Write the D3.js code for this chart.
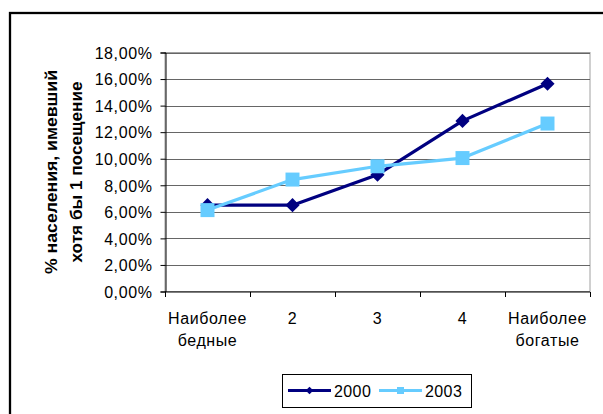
<!DOCTYPE html>
<html>
<head>
<meta charset="utf-8">
<script src="https://cdn.jsdelivr.net/npm/d3@7"></script>
<style>
  html, body { margin: 0; padding: 0; background: #fff; }
  svg { display: block; font-family: Arial, "Liberation Sans", sans-serif; }
</style>
</head>
<body>
<svg id="chart" width="603" height="414"></svg>
<script>
// Share of population with at least one visit, by income quintile
const categories = [["Наиболее", "бедные"], ["2"], ["3"], ["4"], ["Наиболее", "богатые"]];
const series2000 = [0.065, 0.065, 0.088, 0.1285, 0.1565];
const series2003 = [0.0613, 0.0843, 0.0943, 0.1005, 0.1265];
const yTicks = [0, 0.02, 0.04, 0.06, 0.08, 0.10, 0.12, 0.14, 0.16, 0.18];
const seriesNames = ["2000", "2003"];
const seriesColors = ["#000080", "#66ccff"];
const axisTitle = ["% населения, имевший", "хотя бы 1 посещение"];

const svg = d3.select("#chart");

// Outer chart frame (runs off the right and bottom edges)
svg.append("rect")
  .attr("x", 10).attr("y", 13)
  .attr("width", 620).attr("height", 430)
  .attr("fill", "none").attr("stroke", "#000").attr("stroke-width", 2.3);

const plot = { left: 165, right: 590, top: 52.5, bottom: 291.5 };

const x = d3.scaleBand()
  .domain(d3.range(categories.length))
  .range([plot.left, plot.right])
  .padding(0);

const y = d3.scaleLinear()
  .domain([0, 0.18])
  .range([plot.bottom, plot.top]);

const fmt = v => d3.format(".2f")(v * 100).replace(".", ",") + "%";

// Plot area border (light gray)
svg.append("rect")
  .attr("x", plot.left).attr("y", plot.top)
  .attr("width", plot.right - plot.left).attr("height", plot.bottom - plot.top)
  .attr("fill", "#fff").attr("stroke", "#a0a0a0").attr("stroke-width", 1);

// Horizontal gridlines
svg.append("g")
  .selectAll("line")
  .data(yTicks.filter(t => t > 0))
  .join("line")
  .attr("x1", plot.left).attr("x2", plot.right)
  .attr("y1", d => Math.round(y(d)) + 0.5).attr("y2", d => Math.round(y(d)) + 0.5)
  .attr("stroke", "#666").attr("stroke-width", 1.2);

// Y axis
const yAxis = d3.axisLeft(y).tickValues(yTicks).tickFormat(fmt).tickSize(5).tickPadding(8);
const gy = svg.append("g")
  .attr("transform", `translate(${plot.left + 0.5},0)`)
  .call(yAxis);
gy.select(".domain").attr("stroke", "#000");
gy.selectAll(".tick line").attr("stroke", "#000");
gy.selectAll(".tick text")
  .attr("fill", "#000")
  .style("font-size", "16px")
  .style("letter-spacing", "0.6px")
  .attr("dy", "0.36em");

// X axis with ticks at category boundaries
const gx = svg.append("g")
  .attr("transform", `translate(0,${plot.bottom + 0.5})`);
gx.append("line")
  .attr("x1", plot.left).attr("x2", plot.right)
  .attr("stroke", "#000");
const boundaries = d3.range(categories.length + 1).map(i => plot.left + i * x.step());
gx.selectAll("line.tick")
  .data(boundaries)
  .join("line")
  .attr("class", "tick")
  .attr("x1", d => Math.round(d) + 0.5).attr("x2", d => Math.round(d) + 0.5)
  .attr("y1", 0).attr("y2", 5)
  .attr("stroke", "#000");

const xlab = gx.selectAll("text.cat")
  .data(categories)
  .join("text")
  .attr("class", "cat")
  .attr("text-anchor", "middle")
  .attr("fill", "#000")
  .style("font-size", "16px")
  .style("letter-spacing", "0.6px")
  .attr("transform", (d, i) => `translate(${x(i) + x.bandwidth() / 2},0)`);
xlab.selectAll("tspan")
  .data(d => d)
  .join("tspan")
  .attr("x", 0)
  .attr("y", (d, i) => 32 + i * 22)
  .text(d => d);

// Y axis title, two rotated lines
const titleLengths = [204, 181];
const title = svg.append("g")
  .attr("transform", `translate(0,${(plot.top + plot.bottom) / 2}) rotate(-90)`);
title.selectAll("text")
  .data(axisTitle)
  .join("text")
  .attr("x", 0)
  .attr("y", (d, i) => 56.5 + i * 25)
  .attr("text-anchor", "middle")
  .attr("font-weight", "bold")
  .style("font-size", "16px")
  .attr("fill", "#000")
  .attr("textLength", (d, i) => titleLengths[i])
  .attr("lengthAdjust", "spacingAndGlyphs")
  .text(d => d);

// Series lines and markers
const allSeries = [series2000, series2003];
const cx = i => x(i) + x.bandwidth() / 2;
const line = d3.line().x((d, i) => cx(i)).y(d => y(d));

allSeries.forEach((vals, s) => {
  svg.append("path")
    .datum(vals)
    .attr("d", line)
    .attr("fill", "none")
    .attr("stroke", seriesColors[s])
    .attr("stroke-width", 3.2)
    .attr("stroke-linejoin", "round");
  svg.append("g")
    .selectAll("path")
    .data(vals)
    .join("path")
    .attr("d", d3.symbol(d3.symbolSquare, s === 0 ? 100 : 196)())
    .attr("transform", (d, i) => `translate(${cx(i)},${y(d)})` + (s === 0 ? " rotate(45)" : ""))
    .attr("fill", seriesColors[s]);
});

// Legend
const legend = svg.append("g");
legend.append("rect")
  .attr("x", 282.5).attr("y", 374.5)
  .attr("width", 189).attr("height", 33)
  .attr("fill", "#fff").attr("stroke", "#000").attr("stroke-width", 1);
const legendItems = [
  { name: seriesNames[0], color: seriesColors[0], x0: 288, marker: "diamond" },
  { name: seriesNames[1], color: seriesColors[1], x0: 379, marker: "square" }
];
legendItems.forEach(it => {
  legend.append("line")
    .attr("x1", it.x0).attr("x2", it.x0 + 43)
    .attr("y1", 390.5).attr("y2", 390.5)
    .attr("stroke", it.color).attr("stroke-width", 3);
  legend.append("path")
    .attr("d", d3.symbol(d3.symbolSquare, it.marker === "diamond" ? 30 : 49)())
    .attr("transform", `translate(${it.x0 + 21.5},390.5)` + (it.marker === "diamond" ? " rotate(45)" : ""))
    .attr("fill", it.color);
  legend.append("text")
    .attr("x", it.x0 + 46).attr("y", 396.5)
    .style("font-size", "16px")
    .style("letter-spacing", "0.4px")
    .attr("fill", "#000")
    .text(it.name);
});
</script>
</body>
</html>
